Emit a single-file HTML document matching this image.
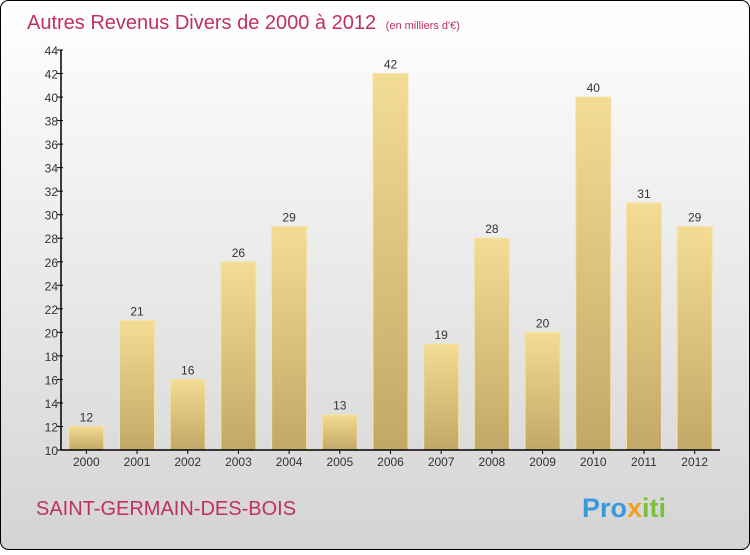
<!DOCTYPE html>
<html><head><meta charset="utf-8"><style>
body{margin:0;width:750px;height:550px;overflow:hidden;font-family:"Liberation Sans",sans-serif}
</style></head><body>
<svg width="750" height="550" xmlns="http://www.w3.org/2000/svg">
<defs>
<linearGradient id="bg" x1="0" y1="0" x2="0" y2="1"><stop offset="0" stop-color="#ffffff"/><stop offset="1" stop-color="#d4d4d4"/></linearGradient>
<linearGradient id="bar" x1="0" y1="0" x2="0" y2="1"><stop offset="0" stop-color="#f3dc94"/><stop offset="1" stop-color="#c2a866"/></linearGradient>
</defs>
<rect x="0.5" y="0.5" width="749" height="549" rx="8" fill="url(#bg)" stroke="#000"/>
<text x="27" y="29" font-size="20" fill="#c0305f">Autres Revenus Divers de 2000 à 2012 <tspan font-size="11" dx="4">(en milliers d'€)</tspan></text>
<g id="bars"></g>
<g id="axes"></g>
<text x="36" y="515" font-size="20" fill="#c0305f">SAINT-GERMAIN-DES-BOIS</text>
<text x="582" y="517" font-size="27" font-weight="bold" fill="#3a9ad9">Pro<tspan fill="#f0a020">x</tspan><tspan fill="#7bbf3a">iti</tspan></text>
</svg>
<script>
const categories=["2000","2001","2002","2003","2004","2005","2006","2007","2008","2009","2010","2011","2012"];
const values=[12,21,16,26,29,13,42,19,28,20,40,31,29];
const yTicks=[10,12,14,16,18,20,22,24,26,28,30,32,34,36,38,40,42,44];
const NS="http://www.w3.org/2000/svg";
const x0=61,x1=720,yMin=10,yMax=44,yb=450,yt=50;
const y=v=>yb-(v-yMin)/(yMax-yMin)*(yb-yt);
const band=(x1-x0)/categories.length;
const bx=i=>x0+band*i+band/2;
function mk(t,a,p){const e=document.createElementNS(NS,t);for(const k in a)e.setAttribute(k,a[k]);p.appendChild(e);return e;}
const gb=document.getElementById('bars'),ga=document.getElementById('axes');
values.forEach((v,i)=>{
 const w=35;
 const r=mk('rect',{x:bx(i)-w/2,y:y(v),width:w,height:yb-y(v),fill:'url(#bar)',stroke:'#f5e4a8','stroke-width':1},gb);
 
 
 const t=mk('text',{x:bx(i),y:y(v)-5,'text-anchor':'middle','font-size':12,fill:'#333'},gb);
 t.textContent=v;
 
 
 const c=mk('text',{x:bx(i),y:466,'text-anchor':'middle','font-size':12,fill:'#333'},ga);
 c.textContent=categories[i];
 
 
 mk('line',{x1:bx(i),x2:bx(i),y1:yb,y2:yb+4,stroke:'#000'},ga);
});
yTicks.forEach(v=>{
 mk('line',{x1:x0-4,x2:x0+2,y1:y(v),y2:y(v),stroke:'#000'},ga);
 const t=mk('text',{x:x0-3,y:y(v)+5,'text-anchor':'end','font-size':12,fill:'#333'},ga);
 t.textContent=v;
 
 
});
const ya=mk('line',{x1:x0,x2:x0,y1:yt,y2:yb,stroke:'#000','stroke-width':1.5},ga);


const xa=mk('line',{x1:x0,x2:x1,y1:yb,y2:yb,stroke:'#000','stroke-width':1.5},ga);


</script>
</body></html>
